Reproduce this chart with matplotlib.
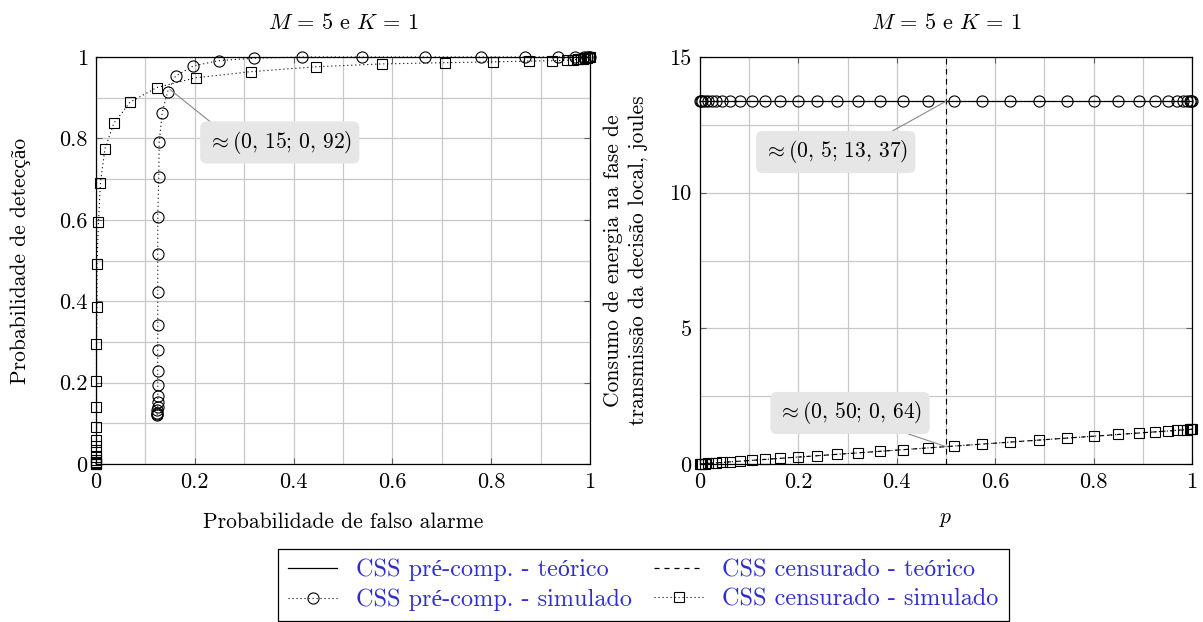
import matplotlib
matplotlib.use("Agg")
import matplotlib.pyplot as plt
from matplotlib.lines import Line2D

plt.rcParams["font.family"] = ["cmr10", "Liberation Serif"]
plt.rcParams["mathtext.fontset"] = "cm"
plt.rcParams["axes.formatter.use_mathtext"] = True
plt.rcParams["font.size"] = 16

# ROC points: pre-computed CSS (simulated)
pf_pre = [0.124, 0.124, 0.124, 0.124, 0.125, 0.125, 0.125, 0.125, 0.125, 0.125,
          0.125, 0.125, 0.125, 0.125, 0.127, 0.128, 0.134, 0.145, 0.161, 0.197,
          0.248, 0.319, 0.418, 0.538, 0.666, 0.779, 0.868, 0.936, 0.970, 0.988,
          0.993, 0.997, 1.0]
pd_pre = [0.121, 0.123, 0.126, 0.133, 0.141, 0.152, 0.168, 0.194, 0.229, 0.280,
          0.342, 0.422, 0.515, 0.608, 0.704, 0.792, 0.863, 0.915, 0.953, 0.978,
          0.991, 0.997, 1.0, 1.0, 1.0, 1.0, 1.0, 1.0, 1.0, 1.0,
          1.0, 1.0, 1.0]

# ROC points: censored CSS (simulated)
pf_cen = [0.000, 0.000, 0.000, 0.001, 0.001, 0.001, 0.001, 0.001, 0.001, 0.001,
          0.001, 0.001, 0.001, 0.002, 0.002, 0.005, 0.009, 0.018, 0.036, 0.069,
          0.123, 0.202, 0.314, 0.445, 0.578, 0.706, 0.803, 0.877, 0.924, 0.953,
          0.966, 0.976, 0.982, 0.986, 0.990, 0.994, 0.997, 1.0]
pd_cen = [0.000, 0.001, 0.003, 0.006, 0.010, 0.018, 0.030, 0.043, 0.059, 0.092,
          0.141, 0.205, 0.294, 0.385, 0.491, 0.594, 0.691, 0.774, 0.837, 0.889,
          0.925, 0.949, 0.964, 0.976, 0.983, 0.986, 0.988, 0.990, 0.991, 0.992,
          0.993, 0.994, 0.995, 0.996, 0.997, 0.998, 0.999, 1.0]

# Energy spent transmitting local decisions versus p
p_vals = [0.0, 0.002, 0.005, 0.010, 0.017, 0.024, 0.032, 0.044, 0.061, 0.081,
          0.105, 0.132, 0.163, 0.200, 0.237, 0.278, 0.322, 0.366, 0.413, 0.464,
          0.516, 0.573, 0.630, 0.689, 0.745, 0.801, 0.850, 0.892, 0.925, 0.951,
          0.969, 0.981, 0.989, 0.995, 0.998, 1.0]
energy_pre = [13.37] * len(p_vals)
energy_cen = [0.000, 0.003, 0.006, 0.013, 0.022, 0.031, 0.041, 0.056, 0.078, 0.104,
              0.134, 0.169, 0.209, 0.256, 0.303, 0.356, 0.412, 0.468, 0.529, 0.594,
              0.660, 0.733, 0.806, 0.882, 0.954, 1.025, 1.088, 1.142, 1.184, 1.217,
              1.240, 1.256, 1.266, 1.274, 1.277, 1.280]

# Highlighted operating points
roc_mark = (0.15, 0.92)
p_mark = 0.5
energy_pre_mark = 13.37
energy_cen_mark = 0.64

title = r"$M\,=\,5$ e $K\,=\,1$"
legend_labels = ["CSS pré-comp. - teórico", "CSS pré-comp. - simulado",
                 "CSS censurado - teórico", "CSS censurado - simulado"]

W, H = 1203, 622
fig = plt.figure(figsize=(W / 100, H / 100), dpi=100)
ax1 = fig.add_axes([96 / W, 1 - 464 / H, 494 / W, 407 / H])
ax2 = fig.add_axes([700 / W, 1 - 464 / H, 492 / W, 407 / H])

dotted = (0, (1, 2.6))
mk = dict(markerfacecolor="none", markeredgecolor="black", markeredgewidth=0.8,
          clip_on=False, zorder=3)
grid_kw = dict(color="#c8c8c8", linewidth=0.9)
label_fs = 15.5
box = dict(boxstyle="round,pad=0.35,rounding_size=0.3",
           facecolor="#e6e6e6", edgecolor="none")


def style(ax):
    ax.grid(True, which="both", **grid_kw)
    ax.set_axisbelow(True)
    ax.tick_params(which="both", direction="in", top=True, right=True,
                   length=4, width=0.8, color="#606060", pad=6)
    ax.tick_params(which="minor", length=0)
    for s in ax.spines.values():
        s.set_linewidth(0.9)
        s.set_color("black")


# Left panel: ROC
ax1.plot(pf_pre, pd_pre, color="black", lw=0.8, linestyle=dotted,
         marker="o", markersize=8, **mk)
ax1.plot(pf_cen, pd_cen, color="black", lw=0.8, linestyle=dotted,
         marker="s", markersize=7.5, **mk)
ax1.set_xlim(0, 1)
ax1.set_ylim(0, 1)
ticks = [0, 0.2, 0.4, 0.6, 0.8, 1]
tick_labels = ["0", "0.2", "0.4", "0.6", "0.8", "1"]
ax1.set_xticks(ticks)
ax1.set_xticklabels(tick_labels)
ax1.set_yticks(ticks)
ax1.set_yticklabels(tick_labels)
ax1.set_xticks([0.1, 0.3, 0.5, 0.7, 0.9], minor=True)
ax1.set_yticks([0.1, 0.3, 0.5, 0.7, 0.9], minor=True)
style(ax1)
ax1.set_title(title, pad=20, fontsize=16)
ax1.set_xlabel("Probabilidade de falso alarme", labelpad=15, fontsize=label_fs)
ax1.set_ylabel("Probabilidade de detecção", fontsize=label_fs)
ax1.yaxis.set_label_coords(-0.132, 0.5)
ax1.annotate(r"$\approx (0,\,15;\, 0,\,92)$", xy=roc_mark, xytext=(0.372, 0.79),
             ha="center", va="center", fontsize=15.5, bbox=box,
             arrowprops=dict(arrowstyle="-", color="#888888", lw=0.8,
                             shrinkA=0, shrinkB=0, relpos=(0.08, 1.0)))

# Right panel: energy
ax2.plot(p_vals, energy_pre, color="black", lw=0.9, linestyle="-", zorder=2)
ax2.plot(p_vals, energy_pre, color="black", lw=0.8, linestyle=dotted,
         marker="o", markersize=8, **mk)
ax2.plot(p_vals, energy_cen, color="black", lw=0.8, linestyle=(0, (4, 4)), zorder=2)
ax2.plot(p_vals, energy_cen, color="black", lw=0.8, linestyle=dotted,
         marker="s", markersize=7.5, **mk)
ax2.axvline(p_mark, color="black", lw=0.8, linestyle=(0, (5, 4)), zorder=2)
ax2.set_xlim(0, 1)
ax2.set_ylim(0, 15)
ax2.set_xticks(ticks)
ax2.set_xticklabels(tick_labels)
ax2.set_yticks([0, 5, 10, 15])
ax2.set_yticklabels(["0", "5", "10", "15"])
ax2.set_xticks([0.1, 0.3, 0.5, 0.7, 0.9], minor=True)
ax2.set_yticks([2.5, 7.5, 12.5], minor=True)
style(ax2)
ax2.set_title(title, pad=20, fontsize=16)
ax2.set_xlabel(r"$p$", labelpad=13, fontsize=label_fs)
ax2.set_ylabel("Consumo de energia na fase de\ntransmissão da decisão local, joules",
               linespacing=1.3, fontsize=label_fs)
ax2.yaxis.set_label_coords(-0.106, 0.5)
ax2.annotate(r"$\approx (0,\,5;\, 13,\,37)$", xy=(p_mark, energy_pre_mark),
             xytext=(0.276, 11.5), ha="center", va="center", fontsize=15.5, bbox=box,
             arrowprops=dict(arrowstyle="-", color="#888888", lw=0.8,
                             shrinkA=0, shrinkB=0, relpos=(0.8, 1.0)))
ax2.annotate(r"$\approx (0,\,50;\, 0,\,64)$", xy=(p_mark, energy_cen_mark),
             xytext=(0.305, 1.88), ha="center", va="center", fontsize=15.5, bbox=box,
             arrowprops=dict(arrowstyle="-", color="#888888", lw=0.8,
                             shrinkA=0, shrinkB=0, relpos=(0.75, 0.0)))

# Shared legend
handles = [
    Line2D([], [], color="black", lw=0.9, linestyle="-"),
    Line2D([], [], color="black", lw=0.8, linestyle=dotted, marker="o",
           markersize=8, markerfacecolor="none", markeredgecolor="black",
           markeredgewidth=0.8),
    Line2D([], [], color="black", lw=0.9, linestyle=(0, (4, 4))),
    Line2D([], [], color="black", lw=0.8, linestyle=dotted, marker="s",
           markersize=7.5, markerfacecolor="none", markeredgecolor="black",
           markeredgewidth=0.8),
]
leg = fig.legend(handles, legend_labels, ncol=2, loc="center",
                 bbox_to_anchor=(643.5 / W, 1 - 585 / H), frameon=True,
                 fancybox=False, edgecolor="black", framealpha=1,
                 fontsize=17.5, handlelength=2.0, columnspacing=0.9,
                 handletextpad=0.8, borderpad=0.42, labelspacing=0.3)
leg.get_frame().set_linewidth(0.9)
for t in leg.get_texts():
    t.set_color("#2f2fd0")

fig.savefig("out.png", dpi=100)
